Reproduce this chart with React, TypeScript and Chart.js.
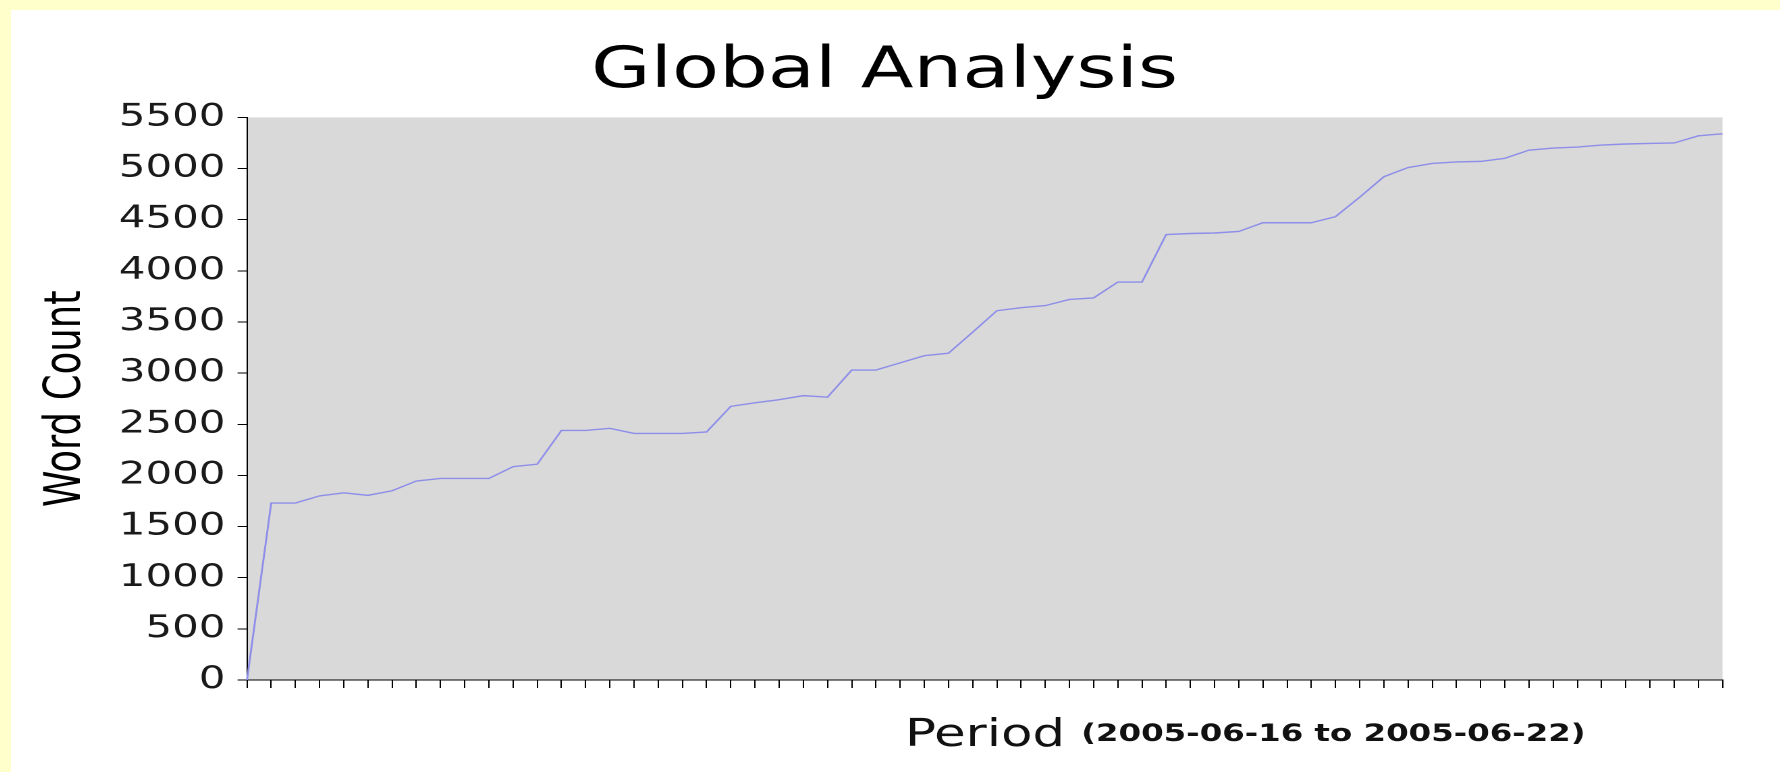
import { useEffect, useRef } from "react";
import { Chart, registerables } from "chart.js";

Chart.register(...registerables);

const TITLE = "Global Analysis";
const Y_TITLE = "Word Count";
const X_TITLE = "Period";
const X_RANGE = "(2005-06-16 to 2005-06-22)";

const SAMPLES = [
  "1", "2", "3", "4", "5", "6", "7", "8", "9", "10",
  "11", "12", "13", "14", "15", "16", "17", "18", "19", "20",
  "21", "22", "23", "24", "25", "26", "27", "28", "29", "30",
  "31", "32", "33", "34", "35", "36", "37", "38", "39", "40",
  "41", "42", "43", "44", "45", "46", "47", "48", "49", "50",
  "51", "52", "53", "54", "55", "56", "57", "58", "59", "60",
  "61", "62",
];

const WORD_COUNT = [
  0, 1730, 1730, 1800, 1830, 1805, 1850, 1945, 1970, 1970,
  1970, 2085, 2110, 2440, 2440, 2460, 2410, 2410, 2410, 2425,
  2675, 2710, 2740, 2780, 2765, 3030, 3030, 3100, 3170, 3195,
  3400, 3610, 3640, 3660, 3720, 3735, 3890, 3890, 4355, 4365,
  4370, 4385, 4470, 4470, 4470, 4530, 4720, 4920, 5010, 5050,
  5065, 5070, 5100, 5180, 5200, 5210, 5230, 5240, 5245, 5250,
  5320, 5340,
];

const Y_MIN = 0;
const Y_MAX = 5500;
const Y_STEP = 500;

const FONT = "'DejaVu Sans', 'Noto Sans', sans-serif";
const PAGE_W = 1780;
const PAGE_H = 772;
const OFFSET_X = 11;
const OFFSET_Y = 10;
const STRETCH = 1.35;
const CANVAS_W = (PAGE_W - OFFSET_X) / STRETCH;
const CANVAS_H = PAGE_H - OFFSET_Y;
const AREA_LEFT = (247 - OFFSET_X) / STRETCH;
const AREA_RIGHT = (1723 - OFFSET_X) / STRETCH;
const RIGHT_SPACE = CANVAS_W - AREA_RIGHT;
const RIGHT_PAD = 16;

const backgroundPlugin = {
  id: "bgPlugin",
  beforeDraw(chart: any) {
    const { ctx, chartArea } = chart;
    ctx.save();
    ctx.fillStyle = "#ffffff";
    ctx.fillRect(0, 0, chart.width, chart.height);
    ctx.fillStyle = "#d9d9d9";
    ctx.fillRect(chartArea.left, chartArea.top, chartArea.right - chartArea.left, chartArea.bottom - chartArea.top);
    ctx.restore();
  },
};

const xTitlePlugin = {
  id: "xTitlePlugin",
  afterDraw(chart: any) {
    const { ctx } = chart;
    ctx.save();
    ctx.fillStyle = "#111111";
    ctx.textBaseline = "alphabetic";
    ctx.textAlign = "left";
    const x0 = (905 - OFFSET_X) / STRETCH;
    ctx.font = `normal 38px ${FONT}`;
    ctx.fillText(X_TITLE, x0, 736);
    const w = ctx.measureText(X_TITLE).width;
    ctx.font = `bold 24px ${FONT}`;
    ctx.fillText(X_RANGE, x0 + w + 12, 731);
    ctx.restore();
  },
};

export default function App() {
  const canvasRef = useRef<HTMLCanvasElement | null>(null);

  useEffect(() => {
    const canvas = canvasRef.current;
    if (!canvas) return;
    const chart = new Chart(canvas, {
      type: "line",
      data: {
        labels: SAMPLES,
        datasets: [
          {
            data: WORD_COUNT,
            borderColor: "rgb(142,142,234)",
            borderWidth: 1.4,
            pointRadius: 0,
            tension: 0,
            fill: false,
          },
        ],
      },
      options: {
        animation: false,
        responsive: false,
        devicePixelRatio: 2,
        layout: { padding: { left: 0, top: 0, right: RIGHT_PAD, bottom: 0 } },
        plugins: {
          legend: { display: false },
          tooltip: { enabled: false },
          title: {
            display: true,
            text: TITLE,
            color: "#000000",
            font: { family: FONT, size: 57, weight: "normal", lineHeight: 1.2 },
            padding: { top: 28, bottom: 11 },
          },
        },
        scales: {
          x: {
            type: "category",
            offset: false,
            grid: { display: true, drawOnChartArea: false, drawTicks: true, tickLength: 8, color: "#000000", lineWidth: 1 },
            border: { display: true, color: "#000000", width: 1 },
            ticks: { display: false },
            afterFit: (s: any) => {
              s.height = 92;
            },
          },
          y: {
            min: Y_MIN,
            max: Y_MAX,
            grid: { display: true, drawOnChartArea: false, drawTicks: true, tickLength: 7, color: "#000000", lineWidth: 1 },
            border: { display: true, color: "#000000", width: 1 },
            ticks: {
              stepSize: Y_STEP,
              font: { family: FONT, size: 31 },
              color: "#1a1a1a",
              padding: 9,
              callback: (v: any) => String(v),
            },
            title: {
              display: true,
              text: Y_TITLE,
              color: "#000000",
              font: { family: FONT, size: 37, lineHeight: 1.2 },
              padding: { top: 19, bottom: 0 },
            },
            afterFit: (s: any) => {
              s.width = AREA_LEFT;
            },
          },
          yRightSpace: {
            type: "linear",
            position: "right",
            display: true,
            grid: { display: false },
            border: { display: false },
            ticks: { display: false },
            afterFit: (s: any) => {
              s.width = RIGHT_SPACE - RIGHT_PAD;
            },
          },
        },
      },
      plugins: [backgroundPlugin, xTitlePlugin],
    });
    return () => chart.destroy();
  }, []);

  return (
    <div
      style={{
        position: "fixed",
        left: 0,
        top: 0,
        width: PAGE_W,
        height: PAGE_H,
        background: "#ffffcc",
        overflow: "hidden",
      }}
    >
      <div
        style={{
          position: "absolute",
          left: OFFSET_X,
          top: OFFSET_Y,
          width: CANVAS_W,
          height: CANVAS_H,
          transform: `scaleX(${STRETCH})`,
          transformOrigin: "0 0",
        }}
      >
        <canvas
          ref={canvasRef}
          width={CANVAS_W}
          height={CANVAS_H}
          style={{ width: CANVAS_W, height: CANVAS_H, display: "block" }}
        />
      </div>
    </div>
  );
}
